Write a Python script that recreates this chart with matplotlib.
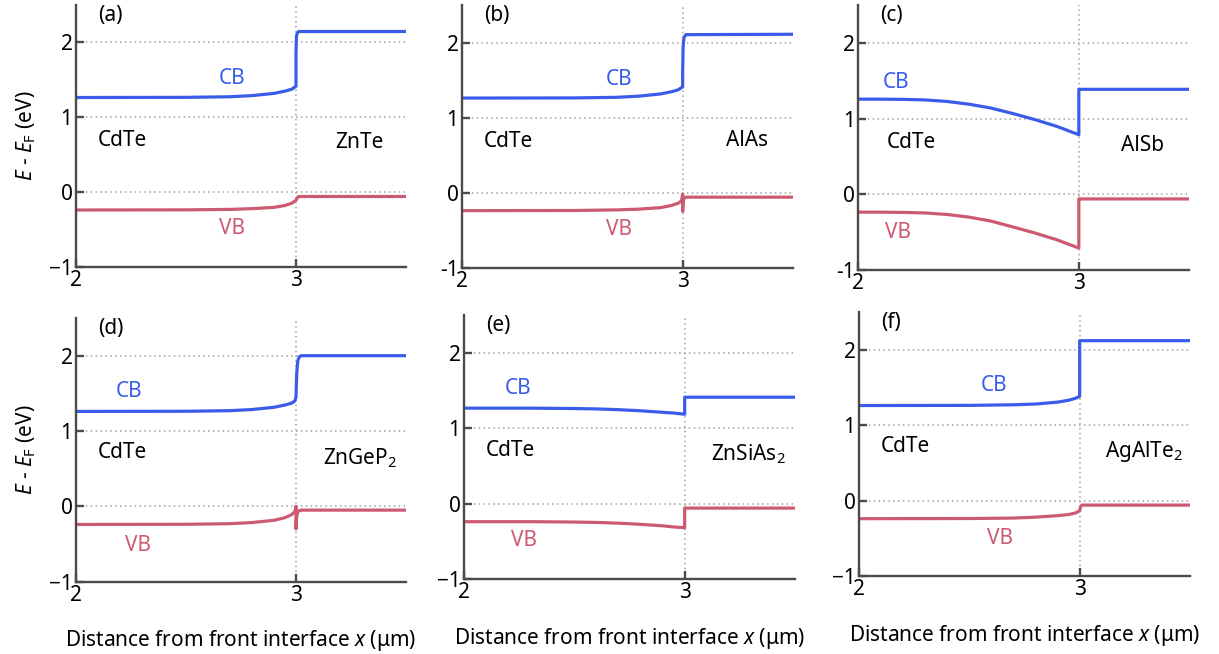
import matplotlib
matplotlib.use("Agg")
import matplotlib.pyplot as plt

# CdTe / buffer band diagrams (eV vs x in um)
panels = ["(a)", "(b)", "(c)", "(d)", "(e)", "(f)"]
materials = ["ZnTe", "AlAs", "AlSb", "ZnGeP$_\\mathregular{2}$",
             "ZnSiAs$_\\mathregular{2}$", "AgAlTe$_\\mathregular{2}$"]

x_cb_a = [2.0, 2.5, 2.7, 2.8, 2.9, 2.95, 2.98, 3.0, 3.0, 3.002, 3.006, 3.012, 3.5]
cb_a = [1.26, 1.262, 1.27, 1.285, 1.315, 1.345, 1.37, 1.41, 1.85, 2.08, 2.12, 2.14, 2.14]
x_vb_a = [2.0, 2.5, 2.7, 2.8, 2.9, 2.95, 2.98, 3.0, 3.006, 3.012, 3.02, 3.5]
vb_a = [-0.24, -0.238, -0.232, -0.222, -0.205, -0.18, -0.15, -0.11, -0.075, -0.062, -0.06, -0.06]

x_cb_b = [2.0, 2.5, 2.7, 2.8, 2.9, 2.95, 2.98, 3.0, 3.0, 3.002, 3.006, 3.015, 3.5]
cb_b = [1.26, 1.262, 1.27, 1.285, 1.315, 1.345, 1.37, 1.41, 1.6, 1.95, 2.07, 2.105, 2.11]
x_vb_b = [2.0, 2.5, 2.7, 2.8, 2.9, 2.95, 2.98, 2.995, 3.0, 3.0, 3.002, 3.006, 3.015, 3.5]
vb_b = [-0.24, -0.238, -0.23, -0.22, -0.20, -0.17, -0.14, -0.11, -0.02, -0.25, -0.12, -0.075, -0.06, -0.06]

x_cb_c = [2.0, 2.1, 2.2, 2.3, 2.4, 2.5, 2.6, 2.7, 2.8, 2.9, 3.0, 3.0, 3.5]
cb_c = [1.26, 1.26, 1.257, 1.25, 1.23, 1.194, 1.143, 1.07, 0.99, 0.90, 0.79, 1.39, 1.39]
x_vb_c = x_cb_c
vb_c = [-0.235, -0.235, -0.238, -0.245, -0.265, -0.30, -0.352, -0.43, -0.51, -0.60, -0.71, -0.06, -0.06]

x_cb_d = [2.0, 2.5, 2.7, 2.8, 2.9, 2.95, 2.98, 2.995, 3.0, 3.003, 3.008, 3.015, 3.025, 3.5]
cb_d = [1.26, 1.262, 1.27, 1.285, 1.315, 1.345, 1.37, 1.40, 1.45, 1.75, 1.93, 1.985, 2.0, 2.0]
x_vb_d = [2.0, 2.5, 2.7, 2.8, 2.9, 2.95, 2.98, 2.995, 3.0, 3.0, 3.002, 3.006, 3.012, 3.025, 3.5]
vb_d = [-0.24, -0.238, -0.23, -0.215, -0.185, -0.15, -0.11, -0.07, 0.0, -0.30, -0.17, -0.09, -0.06, -0.05, -0.05]

x_cb_e = [2.0, 2.3, 2.5, 2.6, 2.7, 2.8, 2.9, 2.95, 3.0, 3.0, 3.5]
cb_e = [1.265, 1.265, 1.26, 1.255, 1.245, 1.23, 1.21, 1.20, 1.185, 1.41, 1.41]
x_vb_e = x_cb_e
vb_e = [-0.24, -0.24, -0.245, -0.25, -0.26, -0.275, -0.295, -0.31, -0.32, -0.06, -0.06]

x_cb_f = [2.0, 2.5, 2.7, 2.8, 2.9, 2.95, 2.98, 3.0, 3.0, 3.5]
cb_f = [1.26, 1.262, 1.27, 1.28, 1.305, 1.33, 1.355, 1.38, 2.12, 2.12]
x_vb_f = [2.0, 2.5, 2.7, 2.8, 2.9, 2.95, 2.98, 3.0, 3.004, 3.01, 3.5]
vb_f = [-0.24, -0.238, -0.232, -0.22, -0.20, -0.185, -0.165, -0.135, -0.08, -0.06, -0.06]

# label positions (data coords)
cb_lab = [(2.71, 1.52), (2.71, 1.51), (2.17, 1.48), (2.24, 1.53), (2.245, 1.53), (2.61, 1.53)]
vb_lab = [(2.71, -0.49), (2.71, -0.49), (2.18, -0.51), (2.28, -0.52), (2.27, -0.49), (2.64, -0.50)]
mat_y = [0.66, 0.69, 0.65, 0.64, 0.65, 0.65]
cdte_y = [0.68, 0.68, 0.68, 0.71, 0.70, 0.72]
minus_lab = ["\u22121", "-1", "-1", "\u22121", "\u22121", "\u22121"]

cb_data = [(x_cb_a, cb_a), (x_cb_b, cb_b), (x_cb_c, cb_c), (x_cb_d, cb_d), (x_cb_e, cb_e), (x_cb_f, cb_f)]
vb_data = [(x_vb_a, vb_a), (x_vb_b, vb_b), (x_vb_c, vb_c), (x_vb_d, vb_d), (x_vb_e, vb_e), (x_vb_f, vb_f)]

# axes boxes in pixels: left, right, top, bottom
boxes = [(76, 406, 4.5, 267), (462, 793, 5, 267.7), (858.5, 1189, 5.4, 270),
         (76, 406, 318, 581.7), (464, 795, 315, 579), (859, 1190, 312, 576)]

font = "Noto Sans"
plt.rcParams['font.family'] = [font, 'DejaVu Sans']
plt.rcParams['mathtext.fontset'] = 'custom'
plt.rcParams['mathtext.rm'] = font
plt.rcParams['mathtext.it'] = font + ':italic'

W, H = 1219, 654
fig = plt.figure(figsize=(W / 100, H / 100), dpi=100)

cb_col = '#3a5de9'
vb_col = '#cc5a70'
spine_col = '#4f4a47'
fs = 15

for i in range(6):
    l, r, t, b = boxes[i]
    ax = fig.add_axes([l / W, 1 - b / H, (r - l) / W, (b - t) / H])
    ax.set_xlim(2, 3.5)
    ax.set_ylim(-1, 2.5)
    for s in ['top', 'right']:
        ax.spines[s].set_visible(False)
    for s in ['left', 'bottom']:
        ax.spines[s].set_color(spine_col)
        ax.spines[s].set_linewidth(1.7)
        ax.spines[s].set_zorder(5)
    ax.set_xticks([2, 3])
    ax.set_xticklabels(['2', '3'])
    ax.set_yticks([-1, 0, 1, 2])
    ax.set_yticklabels([minus_lab[i], '0', '1', '2'])
    ax.tick_params(direction='in', length=6, width=1.7, color=spine_col,
                   labelsize=fs, pad=2.5)
    for yv in [0, 1, 2]:
        ax.axhline(yv, color='#a0a0a0', lw=1.1, ls=(0, (1, 2.2)), zorder=1)
    ax.axvline(3, color='#a0a0a0', lw=1.1, ls=(0, (1, 2.2)), zorder=1)

    ax.plot(cb_data[i][0], cb_data[i][1], color=cb_col, lw=2.3, zorder=3,
            solid_joinstyle='round')
    ax.plot(vb_data[i][0], vb_data[i][1], color=vb_col, lw=2.3, zorder=3,
            solid_joinstyle='round')

    ax.text(2.1, 2.36, panels[i], fontsize=fs, va='center', ha='left')
    ax.text(cb_lab[i][0], cb_lab[i][1], 'CB', color=cb_col, fontsize=fs, ha='center', va='center')
    ax.text(vb_lab[i][0], vb_lab[i][1], 'VB', color=vb_col, fontsize=fs, ha='center', va='center')
    ax.text(2.1 if i != 2 else 2.13, cdte_y[i], 'CdTe', fontsize=fs, ha='left', va='center')
    ax.text(3.29, mat_y[i], materials[i], fontsize=fs, ha='center', va='center')

    if i % 3 == 0:
        ax.set_ylabel('$E$ - $E_\\mathregular{F}$ (eV)', fontsize=fs, labelpad=8)
    if i >= 3:
        ax.set_xlabel('Distance from front interface $x$ (\u03bcm)', fontsize=fs, labelpad=16)

fig.savefig('out.png', dpi=100)
